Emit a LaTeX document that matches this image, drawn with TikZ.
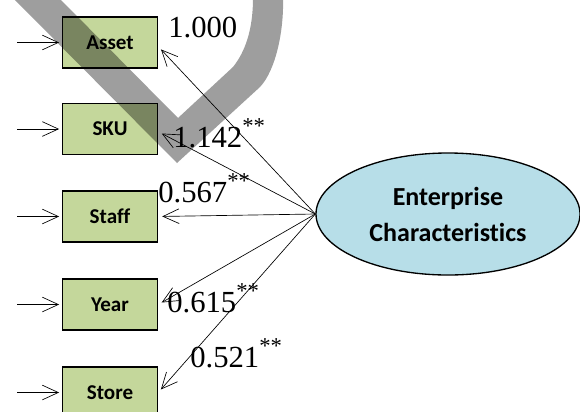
\documentclass[tikz,border=0pt]{standalone}
\usepackage{fontspec}
\setmainfont{Liberation Serif}
\newfontfamily\labelsans[Ligatures=NoCommon]{Carlito}
\usetikzlibrary{arrows.meta,shapes.geometric}
\definecolor{boxgreen}{HTML}{C4D79B}
\definecolor{latentblue}{HTML}{B7DEE8}
% significance stars set as a raised superscript
\newcommand\sigmark{\raisebox{10pt}{\fontsize{17}{17}\selectfont **}}

\begin{document}
\begin{tikzpicture}[x=0.75pt,y=-0.75pt,
  indicator/.style={draw=black, line width=1.1pt, fill=boxgreen,
    minimum width=71.25pt, minimum height=38.25pt, inner sep=0pt,
    font=\labelsans\bfseries\fontsize{15.8}{18}\selectfont},
  latent/.style={ellipse, draw=black, line width=1pt, fill=latentblue,
    minimum width=198pt, minimum height=91.5pt, inner sep=0pt, align=center,
    font=\labelsans\bfseries\fontsize{19.5}{27}\selectfont},
  loading/.style={-{Straight Barb[length=12pt,width=11pt]}, line width=0.5pt},
  coef/.style={anchor=base west, inner sep=0pt, font=\fontsize{23}{23}\selectfont}
]
\clip (0,0) rectangle (580,411);

% observed indicators
\node[indicator] (asset) at (110,42.5)  {Asset};
\node[indicator] (sku)   at (110,129)   {SKU};
\node[indicator] (staff) at (110,216.5) {Staff};
\node[indicator] (year)  at (110,304.5) {Year};
\node[indicator] (store) at (110,392.5) {Store};

% latent construct
\node[latent] (ec) at (448,214) {Enterprise\\Characteristics};

% error terms feeding each indicator
\coordinate (eAsset) at (17,42.5);
\coordinate (eSku)   at (17,129);
\coordinate (eStaff) at (17,216.5);
\coordinate (eYear)  at (17,304.5);
\coordinate (eStore) at (17,392.5);
\foreach \e/\b in {eAsset/asset,eSku/sku,eStaff/staff,eYear/year,eStore/store}
  \draw[loading, shorten >=2pt] (\e) -- (\b.west);

% factor loadings
\draw[loading, shorten >=3pt] (ec.west) -- ([yshift=-3pt]asset.east);
\draw[loading, shorten >=3pt] (ec.west) -- ([yshift=-2pt]sku.east);
\draw[loading, shorten >=3pt] (ec.west) -- (staff.east);
\draw[loading, shorten >=3pt] (ec.west) -- (year.east);
\draw[loading, shorten >=3pt] (ec.west) -- (store.east);

% standardized coefficients
\node[coef] (cAsset) at (168,37)  {1.000};
\node[coef] (cSku)   at (173,147) {1.142\sigmark};
\node[coef] (cStaff) at (158,202) {0.567\sigmark};
\node[coef] (cYear)  at (167,312) {0.615\sigmark};
\node[coef] (cStore) at (190,367) {0.521\sigmark};

% translucent grey check stroke across the upper part
\fill[black, opacity=0.38]
  (13,-2) -- (177,163) -- (260,87)
  .. controls (276,70) and (284,30) .. (283,-2)
  -- (253,-2)
  .. controls (253,30) and (245,52) .. (233,67)
  -- (178,118) -- (59,-2) -- cycle;
\end{tikzpicture}
\end{document}
